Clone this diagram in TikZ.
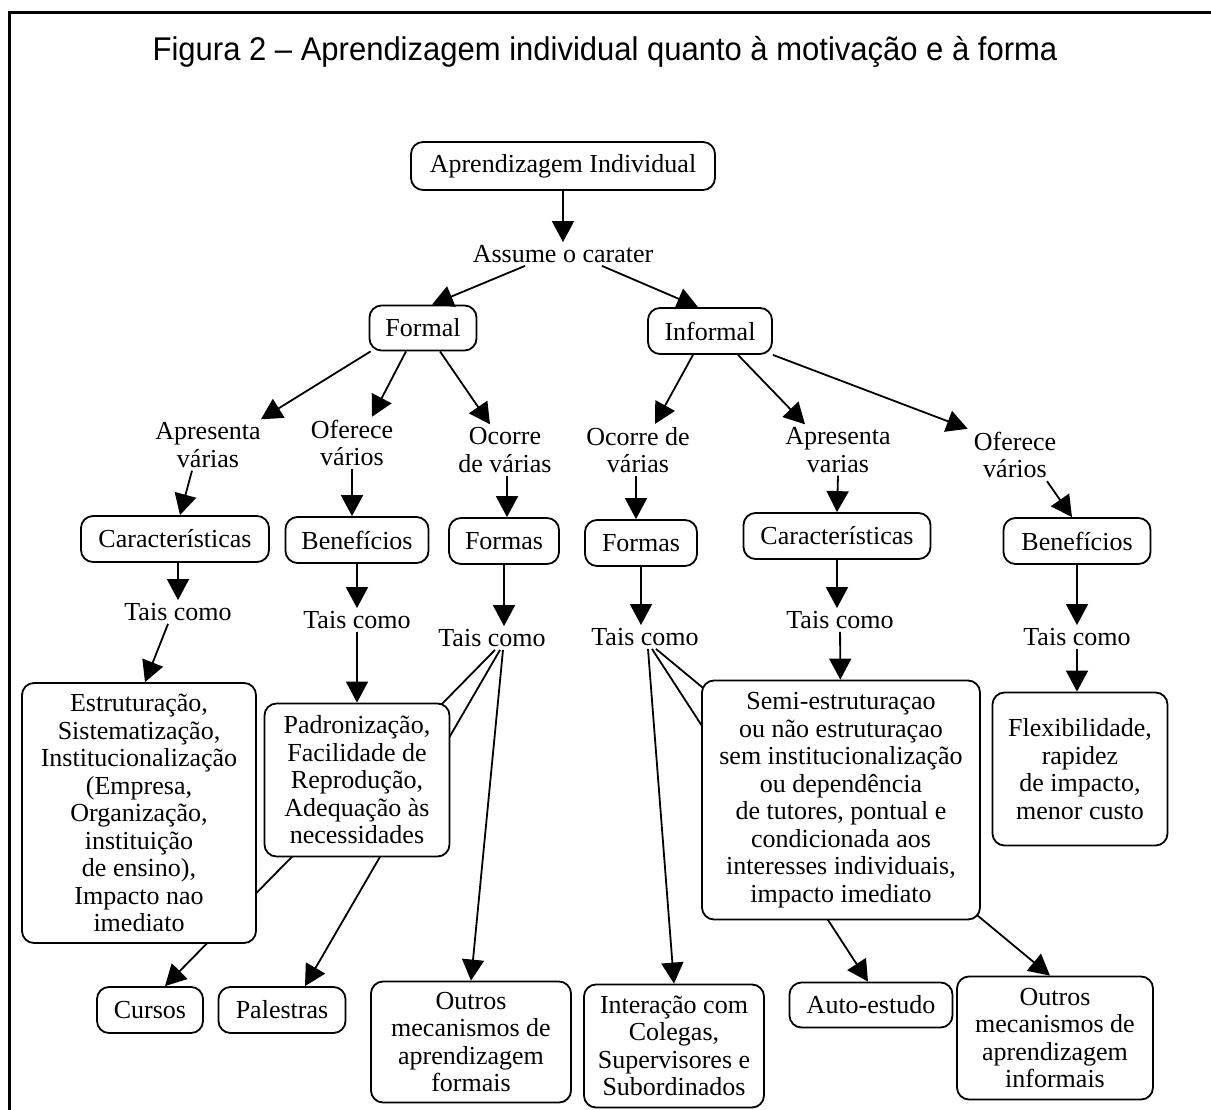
\documentclass[tikz,border=0pt]{standalone}
\usepackage{fontspec}
\setmainfont{Liberation Serif}
\newfontfamily\titlefont{Liberation Sans}
\usetikzlibrary{arrows.meta,backgrounds}
\tikzset{
  txt/.style={font=\fontsize{26}{27.5}\selectfont, align=center, inner sep=0pt},
  lbl/.style={txt, inner sep=3pt},
  box/.style={txt, draw, line width=1.8pt, rounded corners=12pt, fill=white},
  arr/.style={line width=1.8pt, -{Triangle[length=21pt,width=22pt]}},
  frame/.style={line width=3pt}
}
\begin{document}
\begin{tikzpicture}[x=1pt,y=-1pt]
\useasboundingbox (0,0) rectangle (1211,1110);
\coordinate (fA) at (9,1110);
\coordinate (fB) at (9,13);
\coordinate (fC) at (1211,13);
\draw[frame] (fA) -- (fB) -- (fC);
\node[font=\titlefont\fontsize{31}{36}\selectfont, inner sep=0pt, yscale=1.06] (title) at (605,52) {Figura 2 – Aprendizagem individual quanto à motivação e à forma};

% level 0
\node[box, minimum width=304pt, minimum height=48pt] (ai) at (563,166) {Aprendizagem Individual};
\node[lbl] (assume) at (563,254) {Assume o carater};
\node[box, minimum width=107pt, minimum height=45pt] (formal) at (423,328) {Formal};
\node[box, minimum width=124pt, minimum height=46pt] (informal) at (710,331) {Informal};

% labels level 2
\node[lbl] (ap1) at (208,445) {Apresenta\\várias};
\node[lbl] (of1) at (352,443) {Oferece\\vários};
\node[lbl] (oc1) at (505,450) {Ocorre\\de várias};
\node[lbl] (oc2) at (638,450) {Ocorre de\\várias};
\node[lbl] (ap2) at (838,450) {Apresenta\\varias};
\node[lbl] (of2) at (1015,455) {Oferece\\vários};

% boxes level 3
\node[box, minimum width=188pt, minimum height=46pt] (car1) at (175,539) {Características};
\node[box, minimum width=143pt, minimum height=46pt] (ben1) at (357,540) {Benefícios};
\node[box, minimum width=110pt, minimum height=46pt] (for1) at (504,541) {Formas};
\node[box, minimum width=112pt, minimum height=46pt] (for2) at (641,543) {Formas};
\node[box, minimum width=187pt, minimum height=46pt] (car2) at (837,536) {Características};
\node[box, minimum width=147pt, minimum height=46pt] (ben2) at (1077,541) {Benefícios};

% tais como
\node[lbl] (tc1) at (178,612) {Tais como};
\node[lbl] (tc2) at (357,620) {Tais como};
\node[lbl] (tc3) at (492,638) {Tais como};
\node[lbl] (tc4) at (645,637) {Tais como};
\node[lbl] (tc5) at (840,620) {Tais como};
\node[lbl] (tc6) at (1077,637) {Tais como};

% content boxes
\node[box, minimum width=234pt, minimum height=260pt] (est) at (139,813) {Estruturação,\\Sistematização,\\Institucionalização\\(Empresa,\\Organização,\\instituição\\de ensino),\\Impacto nao\\imediato};
\node[box, minimum width=185pt, minimum height=153pt] (pad) at (357,780) {Padronização,\\Facilidade de\\Reprodução,\\Adequação às\\necessidades};
\node[box, minimum width=278pt, minimum height=239pt] (semi) at (841,800) {Semi-estruturaçao\\ou não estruturaçao\\sem institucionalização\\ou dependência\\de tutores, pontual e\\condicionada aos\\interesses individuais,\\impacto imediato};
\node[box, minimum width=175pt, minimum height=153pt] (flex) at (1080,769) {Flexibilidade,\\rapidez\\de impacto,\\menor custo};

% bottom boxes
\node[box, minimum width=106pt, minimum height=46pt] (cursos) at (150,1010) {Cursos};
\node[box, minimum width=127pt, minimum height=46pt] (palestras) at (282,1010) {Palestras};
\node[box, minimum width=200pt, minimum height=121pt] (outros1) at (471,1042) {Outros\\mecanismos de\\aprendizagem\\formais};
\node[box, minimum width=180pt, minimum height=123pt] (inter) at (674,1046) {Interação com\\Colegas,\\Supervisores e\\Subordinados};
\node[box, minimum width=163pt, minimum height=45pt] (auto) at (871,1005) {Auto-estudo};
\node[box, minimum width=196pt, minimum height=123pt] (outros2) at (1055,1038) {Outros\\mecanismos de\\aprendizagem\\informais};

% arrows
\draw[arr] (ai) -- (assume);
\draw[arr] ([xshift=-38pt]assume.south) -- ([xshift=9pt]formal.north);
\draw[arr] ([xshift=39pt]assume.south) -- ([xshift=-12pt]informal.north);

\draw[arr] ([xshift=2pt]formal.south west) -- ([xshift=-3pt]ap1.north east);
\draw[arr] ([xshift=-17pt]formal.south) -- ([xshift=20pt]of1.north);
\draw[arr] ([xshift=17pt]formal.south) -- ([xshift=-15pt]oc1.north);
\draw[arr] ([xshift=-17pt]informal.south) -- ([xshift=17pt]oc2.north);
\draw[arr] ([xshift=28pt]informal.south) -- ([xshift=-33pt]ap2.north);
\draw[arr] (informal.south east) -- ([xshift=-3pt]of2.north west);

\draw[arr] ([xshift=-16pt]ap1.south) -- ([xshift=5pt]car1.north);
\draw[arr] (of1.south) -- ([xshift=-5pt]ben1.north);
\draw[arr] ([xshift=2pt]oc1.south) -- ([xshift=3pt]for1.north);
\draw[arr] ([xshift=-2pt]oc2.south) -- ([xshift=-5pt]for2.north);
\draw[arr] (ap2.south) -- (car2.north);
\draw[arr] ([xshift=32pt]of2.south) -- ([xshift=-5pt]ben2.north);

\draw[arr] (tc1.north |- car1.south) -- (tc1.north);
\draw[arr] (ben1) -- (tc2);
\draw[arr] (for1.south) -- (for1.south |- tc3.north);
\draw[arr] (for2.south) -- (for2.south |- tc4.north);
\draw[arr] (car2.south) -- (car2.south |- tc5.north);
\draw[arr] (tc6.north |- ben2.south) -- (tc6.north);

\draw[arr] ([xshift=-10pt]tc1.south) -- ([xshift=6pt]est.north);
\draw[arr] (tc2) -- (pad);
\draw[arr] (tc5) -- (semi);
\draw[arr] (tc6.south) -- (tc6.south |- flex.north);

\begin{pgfonlayer}{background}
\draw[arr] ([xshift=3pt]tc3.south) -- ([xshift=15pt]cursos.north);
\draw[arr] ([xshift=8pt]tc3.south) -- ([xshift=23pt]palestras.north);
\draw[arr] ([xshift=11pt]tc3.south) -- (outros1.north);
\draw[arr] ([xshift=3pt]tc4.south) -- (inter.north);
\draw[arr] ([xshift=7pt]tc4.south) -- ([xshift=-3pt]auto.north);
\draw[arr] ([xshift=11pt]tc4.south) -- ([xshift=-5pt]outros2.north);
\end{pgfonlayer}
\end{tikzpicture}
\end{document}
